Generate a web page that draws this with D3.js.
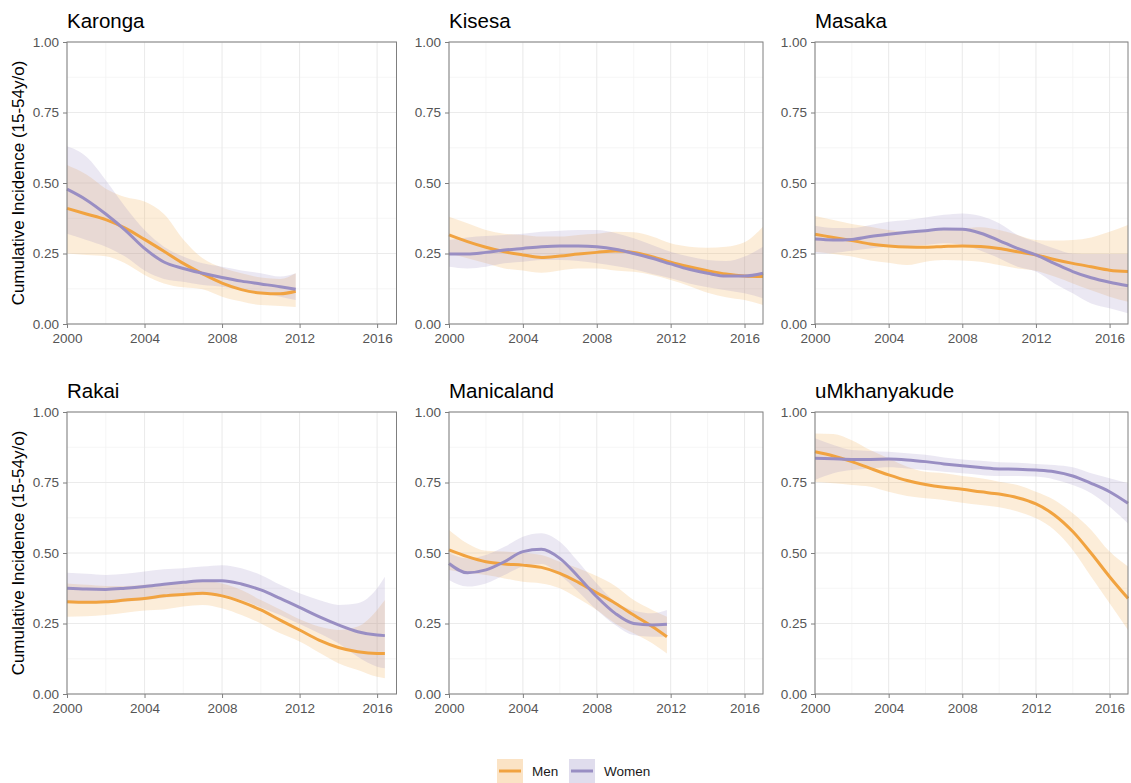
<!DOCTYPE html>
<html>
<head>
<meta charset="utf-8">
<script src="https://cdn.jsdelivr.net/npm/d3@7"></script>
<style>
  body { margin: 0; background: #fff; }
  text { font-family: "Liberation Sans", Arial, sans-serif; }
  .tick text { fill: #555; font-size: 13.5px; }
  .tick line { stroke: #7f7f7f; }
</style>
</head>
<body>
<div id="chart"></div>
<script>

// x values (years)
const yearsTo2011 = [2000, 2001, 2002, 2003, 2004, 2005, 2006, 2007, 2008, 2009, 2010, 2011, 2011.8]
const yearsTo2016 = [2000, 2001, 2002, 2003, 2004, 2005, 2006, 2007, 2008, 2009, 2010, 2011, 2012, 2013, 2014, 2015, 2016, 2016.4]
const yearsTo2017 = [2000, 2001, 2002, 2003, 2004, 2005, 2006, 2007, 2008, 2009, 2010, 2011, 2012, 2013, 2014, 2015, 2016, 2017]

const sites = ["Karonga", "Kisesa", "Masaka", "Rakai", "Manicaland", "uMkhanyakude"]
const sexes = ["Men", "Women"]
const xTicks = [2000, 2004, 2008, 2012, 2016]
const yTicks = [0, 0.25, 0.5, 0.75, 1]

// Karonga
const karongaMen     = [0.41, 0.39, 0.37, 0.34, 0.30, 0.258, 0.215, 0.178, 0.145, 0.122, 0.11, 0.107, 0.116]
const karongaMenHi   = [0.564, 0.53, 0.48, 0.45, 0.434, 0.39, 0.30, 0.233, 0.20, 0.18, 0.165, 0.16, 0.18]
const karongaMenLo   = [0.25, 0.245, 0.24, 0.215, 0.174, 0.144, 0.13, 0.123, 0.097, 0.08, 0.067, 0.064, 0.06]
const karongaWomen   = [0.478, 0.44, 0.39, 0.333, 0.268, 0.22, 0.197, 0.18, 0.165, 0.152, 0.142, 0.132, 0.123]
const karongaWomenHi = [0.63, 0.593, 0.51, 0.416, 0.333, 0.274, 0.239, 0.215, 0.203, 0.19, 0.18, 0.168, 0.18]
const karongaWomenLo = [0.32, 0.298, 0.274, 0.239, 0.19, 0.16, 0.15, 0.138, 0.132, 0.12, 0.11, 0.097, 0.085]

// Kisesa
const kisesaMen     = [0.316, 0.292, 0.272, 0.256, 0.245, 0.236, 0.241, 0.248, 0.254, 0.259, 0.254, 0.239, 0.219, 0.203, 0.189, 0.177, 0.17, 0.168]
const kisesaMenHi   = [0.38, 0.357, 0.333, 0.32, 0.316, 0.31, 0.31, 0.316, 0.32, 0.327, 0.325, 0.31, 0.286, 0.274, 0.27, 0.274, 0.29, 0.345]
const kisesaMenLo   = [0.25, 0.233, 0.215, 0.197, 0.19, 0.182, 0.19, 0.197, 0.197, 0.19, 0.185, 0.174, 0.156, 0.135, 0.111, 0.095, 0.085, 0.067]
const kisesaWomen   = [0.248, 0.248, 0.254, 0.262, 0.268, 0.274, 0.277, 0.277, 0.274, 0.265, 0.25, 0.233, 0.213, 0.194, 0.18, 0.17, 0.17, 0.18]
const kisesaWomenHi = [0.298, 0.307, 0.312, 0.316, 0.32, 0.327, 0.331, 0.333, 0.333, 0.323, 0.304, 0.28, 0.256, 0.239, 0.227, 0.223, 0.239, 0.274]
const kisesaWomenLo = [0.203, 0.197, 0.203, 0.215, 0.221, 0.227, 0.227, 0.223, 0.215, 0.206, 0.194, 0.177, 0.162, 0.144, 0.13, 0.12, 0.109, 0.091]

// Masaka
const masakaMen     = [0.318, 0.307, 0.296, 0.284, 0.277, 0.273, 0.272, 0.275, 0.277, 0.275, 0.268, 0.256, 0.245, 0.229, 0.215, 0.203, 0.191, 0.186]
const masakaMenHi   = [0.383, 0.369, 0.355, 0.345, 0.333, 0.327, 0.327, 0.333, 0.339, 0.343, 0.333, 0.316, 0.298, 0.296, 0.298, 0.307, 0.327, 0.351]
const masakaMenLo   = [0.256, 0.248, 0.239, 0.225, 0.217, 0.209, 0.221, 0.227, 0.225, 0.221, 0.209, 0.197, 0.189, 0.168, 0.144, 0.12, 0.097, 0.079]
const masakaWomen   = [0.301, 0.298, 0.30, 0.31, 0.318, 0.325, 0.331, 0.337, 0.336, 0.322, 0.296, 0.268, 0.245, 0.215, 0.186, 0.164, 0.148, 0.136]
const masakaWomenHi = [0.348, 0.34, 0.34, 0.351, 0.363, 0.369, 0.378, 0.387, 0.392, 0.383, 0.357, 0.316, 0.292, 0.268, 0.25, 0.248, 0.248, 0.248]
const masakaWomenLo = [0.25, 0.252, 0.26, 0.268, 0.274, 0.277, 0.28, 0.286, 0.28, 0.26, 0.233, 0.203, 0.186, 0.144, 0.109, 0.073, 0.056, 0.038]

// Rakai
const rakaiMen     = [0.327, 0.325, 0.327, 0.333, 0.339, 0.348, 0.353, 0.357, 0.348, 0.327, 0.298, 0.262, 0.227, 0.191, 0.165, 0.15, 0.144, 0.144]
const rakaiMenHi   = [0.392, 0.387, 0.383, 0.383, 0.387, 0.392, 0.398, 0.402, 0.392, 0.369, 0.333, 0.30, 0.265, 0.239, 0.227, 0.239, 0.298, 0.333]
const rakaiMenLo   = [0.274, 0.276, 0.28, 0.288, 0.296, 0.30, 0.31, 0.316, 0.304, 0.28, 0.25, 0.215, 0.186, 0.147, 0.109, 0.085, 0.061, 0.056]
const rakaiWomen   = [0.375, 0.372, 0.371, 0.375, 0.381, 0.389, 0.396, 0.402, 0.402, 0.39, 0.369, 0.339, 0.307, 0.274, 0.245, 0.221, 0.209, 0.207]
const rakaiWomenHi = [0.43, 0.426, 0.422, 0.426, 0.434, 0.442, 0.446, 0.452, 0.457, 0.446, 0.422, 0.387, 0.357, 0.333, 0.316, 0.322, 0.375, 0.416]
const rakaiWomenLo = [0.322, 0.322, 0.322, 0.327, 0.333, 0.341, 0.348, 0.351, 0.351, 0.333, 0.307, 0.28, 0.248, 0.215, 0.18, 0.132, 0.097, 0.091]

// Manicaland
const manicalandMen     = [0.511, 0.487, 0.469, 0.461, 0.457, 0.449, 0.428, 0.396, 0.359, 0.322, 0.28, 0.239, 0.203]
const manicalandMenHi   = [0.582, 0.534, 0.508, 0.505, 0.50, 0.493, 0.469, 0.446, 0.418, 0.383, 0.333, 0.298, 0.274]
const manicalandMenLo   = [0.44, 0.43, 0.422, 0.41, 0.398, 0.392, 0.375, 0.339, 0.298, 0.25, 0.215, 0.18, 0.144]
const manicalandWomen   = [0.463, 0.43, 0.44, 0.469, 0.505, 0.513, 0.481, 0.416, 0.345, 0.286, 0.25, 0.245, 0.247]
const manicalandWomenHi = [0.499, 0.481, 0.493, 0.522, 0.558, 0.57, 0.54, 0.469, 0.392, 0.327, 0.296, 0.286, 0.298]
const manicalandWomenLo = [0.404, 0.381, 0.392, 0.422, 0.452, 0.461, 0.422, 0.363, 0.298, 0.245, 0.209, 0.203, 0.203]

// uMkhanyakude
const umkhMen     = [0.859, 0.844, 0.824, 0.80, 0.777, 0.757, 0.743, 0.733, 0.726, 0.717, 0.709, 0.696, 0.674, 0.635, 0.576, 0.499, 0.416, 0.339]
const umkhMenHi   = [0.924, 0.922, 0.90, 0.865, 0.836, 0.806, 0.788, 0.783, 0.773, 0.765, 0.753, 0.741, 0.717, 0.688, 0.641, 0.582, 0.505, 0.452]
const umkhMenLo   = [0.753, 0.747, 0.741, 0.735, 0.717, 0.702, 0.694, 0.688, 0.678, 0.67, 0.662, 0.647, 0.623, 0.582, 0.511, 0.416, 0.322, 0.227]
const umkhWomen   = [0.836, 0.834, 0.832, 0.832, 0.833, 0.83, 0.824, 0.816, 0.809, 0.803, 0.798, 0.797, 0.794, 0.788, 0.773, 0.747, 0.717, 0.676]
const umkhWomenHi = [0.907, 0.883, 0.865, 0.862, 0.859, 0.854, 0.848, 0.839, 0.832, 0.827, 0.822, 0.82, 0.816, 0.812, 0.804, 0.783, 0.765, 0.747]
const umkhWomenLo = [0.759, 0.783, 0.794, 0.80, 0.804, 0.80, 0.794, 0.788, 0.783, 0.777, 0.773, 0.773, 0.771, 0.761, 0.741, 0.712, 0.664, 0.605]

// build table: site -> sex -> points
function rows(years, est, lo, hi) {
    return years.map((y, i) => ({year: y, est: est[i], lo: lo[i], hi: hi[i]}))
}
const table = {
    "Karonga":      {Men: rows(yearsTo2011, karongaMen, karongaMenLo, karongaMenHi), Women: rows(yearsTo2011, karongaWomen, karongaWomenLo, karongaWomenHi)},
    "Kisesa":       {Men: rows(yearsTo2017, kisesaMen, kisesaMenLo, kisesaMenHi), Women: rows(yearsTo2017, kisesaWomen, kisesaWomenLo, kisesaWomenHi)},
    "Masaka":       {Men: rows(yearsTo2017, masakaMen, masakaMenLo, masakaMenHi), Women: rows(yearsTo2017, masakaWomen, masakaWomenLo, masakaWomenHi)},
    "Rakai":        {Men: rows(yearsTo2016, rakaiMen, rakaiMenLo, rakaiMenHi), Women: rows(yearsTo2016, rakaiWomen, rakaiWomenLo, rakaiWomenHi)},
    "Manicaland":   {Men: rows(yearsTo2011, manicalandMen, manicalandMenLo, manicalandMenHi), Women: rows(yearsTo2011, manicalandWomen, manicalandWomenLo, manicalandWomenHi)},
    "uMkhanyakude": {Men: rows(yearsTo2017, umkhMen, umkhMenLo, umkhMenHi), Women: rows(yearsTo2017, umkhWomen, umkhWomenLo, umkhWomenHi)}
}

const color = d3.scaleOrdinal().domain(sexes).range(["#f1a340", "#998ec3"])

const width = 1131
const height = 783

// panel boxes (columns / rows)
const colLeft = [67, 449, 815]
const colRight = [396.5, 763, 1128]
const rowTop = [42, 412]
const rowBottom = [324, 694]

const svg = d3.select("#chart").append("svg")
    .attr("width", width)
    .attr("height", height)

sites.forEach((site, i) => {
    const c = i % 3
    const r = Math.floor(i / 3)
    const w = colRight[c] - colLeft[c]
    const h = rowBottom[r] - rowTop[r]

    const g = svg.append("g")
        .attr("transform", `translate(${colLeft[c]},${rowTop[r]})`)

    const x = d3.scaleLinear().domain([2000, 2017]).range([0, w])
    const y = d3.scaleLinear().domain([0, 1]).range([h, 0])

    // minor grid
    g.append("g").selectAll("line")
        .data([2002, 2006, 2010, 2014])
        .join("line")
            .attr("x1", d => x(d)).attr("x2", d => x(d))
            .attr("y1", 0).attr("y2", h)
            .attr("stroke", "#f2f2f2").attr("stroke-width", 0.7)
    g.append("g").selectAll("line")
        .data([0.125, 0.375, 0.625, 0.875])
        .join("line")
            .attr("y1", d => y(d)).attr("y2", d => y(d))
            .attr("x1", 0).attr("x2", w)
            .attr("stroke", "#f2f2f2").attr("stroke-width", 0.7)

    // major grid
    g.append("g").selectAll("line")
        .data(xTicks)
        .join("line")
            .attr("x1", d => x(d)).attr("x2", d => x(d))
            .attr("y1", 0).attr("y2", h)
            .attr("stroke", "#ebebeb").attr("stroke-width", 1.1)
    g.append("g").selectAll("line")
        .data(yTicks)
        .join("line")
            .attr("y1", d => y(d)).attr("y2", d => y(d))
            .attr("x1", 0).attr("x2", w)
            .attr("stroke", "#ebebeb").attr("stroke-width", 1.1)

    const area = d3.area()
        .curve(d3.curveMonotoneX)
        .x(d => x(d.year))
        .y0(d => y(d.lo))
        .y1(d => y(d.hi))

    const line = d3.line()
        .curve(d3.curveMonotoneX)
        .x(d => x(d.year))
        .y(d => y(d.est))

    // ribbons first, then lines
    sexes.forEach(s => {
        g.append("path")
            .datum(table[site][s])
            .attr("fill", color(s))
            .attr("fill-opacity", 0.2)
            .attr("d", area)
    })
    sexes.forEach(s => {
        g.append("path")
            .datum(table[site][s])
            .attr("fill", "none")
            .attr("stroke", color(s))
            .attr("stroke-width", 3)
            .attr("d", line)
    })

    // panel border
    g.append("rect")
        .attr("width", w).attr("height", h)
        .attr("fill", "none")
        .attr("stroke", "#7f7f7f")
        .attr("stroke-width", 1)

    const xAxis = d3.axisBottom(x).tickValues(xTicks).tickFormat(d3.format("d"))
        .tickSize(4).tickPadding(5)
    const yAxis = d3.axisLeft(y).tickValues(yTicks).tickFormat(d3.format(".2f"))
        .tickSize(4).tickPadding(4)

    g.append("g")
        .attr("transform", `translate(0,${h})`)
        .call(xAxis)
        .call(a => a.select(".domain").remove())
    g.append("g")
        .call(yAxis)
        .call(a => a.select(".domain").remove())

    // panel title
    g.append("text")
        .attr("x", 0)
        .attr("y", -14)
        .attr("font-size", 20.5)
        .attr("fill", "#000")
        .text(site)

    // y-axis title on the first column
    if (c === 0) {
        svg.append("text")
            .attr("transform", `translate(24,${rowTop[r] + h / 2}) rotate(-90)`)
            .attr("text-anchor", "middle")
            .attr("font-size", 17)
            .attr("fill", "#000")
            .text("Cumulative Incidence (15-54y/o)")
    }
})

// legend
const legend = svg.append("g")
    .attr("transform", "translate(497,759)")

sexes.forEach((s, i) => {
    const lx = [0, 72][i]
    const item = legend.append("g").attr("transform", `translate(${lx},0)`)
    item.append("rect")
        .attr("width", 26).attr("height", 24)
        .attr("fill", color(s)).attr("fill-opacity", 0.3)
    item.append("line")
        .attr("x1", 2).attr("x2", 24)
        .attr("y1", 12).attr("y2", 12)
        .attr("stroke", color(s)).attr("stroke-width", 3)
    item.append("text")
        .attr("x", 35)
        .attr("y", 12)
        .attr("dy", "0.35em")
        .attr("font-size", 13.5)
        .attr("fill", "#1a1a1a")
        .text(s)
})

</script>
</body>
</html>
